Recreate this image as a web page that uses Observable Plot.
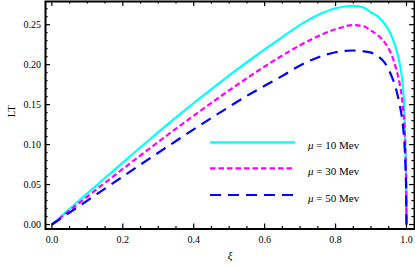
<!DOCTYPE html>
<html><head><meta charset="utf-8">
<script src="https://cdn.jsdelivr.net/npm/d3@7"></script>
<script src="https://cdn.jsdelivr.net/npm/@observablehq/plot@0.6"></script>
<style>
body{margin:0;background:#fff;}
#chart{width:415px;height:268px;}
</style></head><body><div id="chart"></div>
<script>
// ξ sample points
const xi = [0,0.05,0.1,0.15,0.2,0.25,0.3,0.35,0.4,0.45,0.5,0.55,0.6,0.65,0.7,0.75,0.8,0.85,0.88,0.9,0.92,0.94,0.95,0.96,0.97,0.98,0.985,0.99,0.994,0.997,0.999,1.0];
// LT for μ = 10 Mev
const lt10 = [0,0.0195,0.039,0.0583,0.0775,0.0967,0.1155,0.134,0.152,0.1695,0.1865,0.203,0.219,0.2345,0.2498,0.2622,0.2706,0.2737,0.2712,0.2655,0.2600,0.2500,0.2430,0.2335,0.2210,0.2030,0.1910,0.1720,0.1430,0.0950,0.0550,0];
// LT for μ = 30 Mev
const lt30 = [0,0.0175,0.035,0.0523,0.0695,0.0865,0.1033,0.1199,0.1362,0.1522,0.1678,0.1830,0.1977,0.2115,0.2243,0.2355,0.2442,0.2495,0.2480,0.2425,0.2365,0.2270,0.2200,0.2100,0.1960,0.1780,0.1650,0.1470,0.1250,0.0920,0.0530,0];
// LT for μ = 50 Mev
const lt50 = [0,0.015,0.030,0.045,0.060,0.075,0.0898,0.1045,0.119,0.1333,0.1473,0.161,0.1735,0.1860,0.1990,0.2090,0.2155,0.2177,0.2165,0.2150,0.2105,0.2015,0.1935,0.1835,0.1705,0.1515,0.1400,0.1240,0.1020,0.0750,0.0420,0];

const seriesValues = [lt10, lt30, lt50];
const seriesLabels = ["10", "30", "50"];
const seriesColors = ["#00FFFF", "#FF00FF", "#0000FF"];
const seriesDash = [null, "5.5,3", "11,7"];

const xTicks = [0, 0.2, 0.4, 0.6, 0.8, 1.0];
const xMinor = [0.05,0.1,0.15,0.25,0.3,0.35,0.45,0.5,0.55,0.65,0.7,0.75,0.85,0.9,0.95];
const yTicks = [0, 0.05, 0.10, 0.15, 0.20, 0.25];
const yMinor = [0.01,0.02,0.03,0.04,0.06,0.07,0.08,0.09,0.11,0.12,0.13,0.14,0.16,0.17,0.18,0.19,0.21,0.22,0.23,0.24,0.26,0.27];

const W = 415, H = 268, mL = 45, mR = 1, mT = 1, mB = 39.5;
const fw = W - mL - mR, fh = H - mT - mB;
const major = 5, minor = 2.6;
const font = "'Liberation Serif', 'Times New Roman', Times, serif";

const lineMarks = seriesValues.map((arr, i) =>
  Plot.line(xi, {x: d => d, y: (d, j) => arr[j], stroke: seriesColors[i],
    strokeDasharray: seriesDash[i], strokeWidth: 2.2, curve: "monotone-x", strokeLinecap: "butt"}));

const tickStyle = {stroke: "#000", strokeWidth: 1.2};
const plot = Plot.plot({
  width: W, height: H, marginLeft: mL, marginRight: mR, marginTop: mT, marginBottom: mB,
  style: {fontFamily: font, fontSize: "10px", background: "white", color: "#000"},
  x: {domain: [-0.018, 1.0226], label: null},
  y: {domain: [-0.0056, 0.279], label: null},
  marks: [
    ...lineMarks,
    Plot.tickX(xTicks, {x: d => d, insetTop: fh - major, ...tickStyle}),
    Plot.tickX(xTicks, {x: d => d, insetBottom: fh - major, ...tickStyle}),
    Plot.tickX(xMinor, {x: d => d, insetTop: fh - minor, ...tickStyle}),
    Plot.tickX(xMinor, {x: d => d, insetBottom: fh - minor, ...tickStyle}),
    Plot.tickY(yTicks, {y: d => d, insetRight: fw - major, ...tickStyle}),
    Plot.tickY(yTicks, {y: d => d, insetLeft: fw - major, ...tickStyle}),
    Plot.tickY(yMinor, {y: d => d, insetRight: fw - minor, ...tickStyle}),
    Plot.tickY(yMinor, {y: d => d, insetLeft: fw - minor, ...tickStyle}),
    Plot.axisX(xTicks, {anchor: "bottom", tickSize: 0, tickPadding: 7, tickFormat: d3.format(".1f")}),
    Plot.axisY(yTicks, {anchor: "left", tickSize: 0, tickPadding: 4.5, tickFormat: d3.format(".2f")}),
    Plot.frame({stroke: "#000", strokeWidth: 2}),
    Plot.text(["LT"], {frameAnchor: "left", rotate: -90, dx: -33.5, dy: 2, fontSize: 10.5}),
    Plot.text(["ξ"], {frameAnchor: "bottom", dy: 29.5, fontStyle: "italic", fontSize: 11})
  ]
});

// legend inside the frame
const svg = d3.select(plot);
const lg = svg.append("g").attr("font-family", font).attr("font-size", 11).attr("text-anchor", "start");
const legendY = [142.3, 168.3, 195];
seriesLabels.forEach((lab, i) => {
  lg.append("line").attr("x1", 210).attr("x2", 295).attr("y1", legendY[i]).attr("y2", legendY[i])
    .attr("stroke", seriesColors[i]).attr("stroke-width", 2.2)
    .attr("stroke-dasharray", seriesDash[i]);
  const t = lg.append("text").attr("x", 308).attr("y", legendY[i] + 6.5)
    .attr("fill", "#000").attr("text-anchor", "start");
  t.append("tspan").attr("font-style", "italic").text("μ");
  t.append("tspan").text(" = " + lab + " Mev");
});

document.getElementById("chart").appendChild(plot);
</script>
</body></html>
